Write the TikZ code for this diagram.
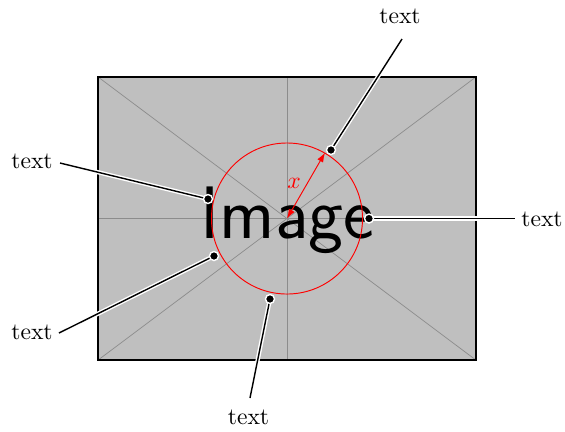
\documentclass[tikz,border=0pt]{standalone}
\usetikzlibrary{arrows.meta}
\begin{document}
\begin{tikzpicture}[x=0.4237pt,y=-0.4237pt,
  frame/.style={draw=black, line width=0.5pt, fill=black!25, rectangle, inner sep=0pt,
    minimum width=160.2pt, minimum height=119.9pt},
  guide/.style={draw=black!45, line width=0.3pt},
  ring/.style={draw=red, line width=0.4pt, circle, inner sep=0pt, minimum size=64pt},
  radius arrow/.style={red, line width=0.4pt, {Latex[length=4pt,width=2.8pt]}-{Latex[length=4pt,width=2.8pt]}},
  halo/.style={preaction={draw=white, line width=1.8pt}, draw=black, line width=0.6pt},
  dot/.style={circle, fill=black, draw=white, line width=0.6pt, inner sep=0pt, minimum size=3.8pt},
  lbl/.style={inner sep=1pt}
]
\useasboundingbox (0,0) rectangle (565,431);
% placeholder image
\node[frame] (img) at (287,218.5) {};
\draw[guide] (img.north west) -- (img.south east);
\draw[guide] (img.south west) -- (img.north east);
\draw[guide] (img.north) -- (img.south);
\draw[guide] (img.west) -- (img.east);
\node[draw=black, line width=0.5pt, rectangle, inner sep=0pt, minimum width=160.2pt, minimum height=119.9pt] (imgb) at (img.center) {};
\node[font=\fontsize{31.5}{36}\selectfont\sffamily, anchor=base, inner sep=0pt] (word) at (287.5,238) {Image};
% circle and radius
\node[ring] (ring) at (img.center) {};
\draw[radius arrow] (ring.center) -- (ring.60) node[midway, left, text=red, inner sep=2pt, yshift=1pt] (xl) {$x$};
% callouts
\coordinate (p1) at (331,150);
\coordinate (p2) at (369,218.5);
\coordinate (p3) at (270,299);
\coordinate (p4) at (214,256);
\coordinate (p5) at (208,199);
\coordinate (e1) at (402,39);
\coordinate (e2) at (515,218.5);
\coordinate (e3) at (250,398);
\coordinate (e4) at (59,333);
\coordinate (e5) at (60,163);
\node[lbl] (t1) at (400,16.5) {text};
\node[lbl] (t2) at (542,219.5) {text};
\node[lbl] (t3) at (248.5,417.5) {text};
\node[lbl] (t4) at (32,332.5) {text};
\node[lbl] (t5) at (32,161) {text};
\draw[halo] (p1) -- (e1);
\draw[halo] (p2) -- (e2);
\draw[halo] (p3) -- (e3);
\draw[halo] (p4) -- (e4);
\draw[halo] (p5) -- (e5);
\node[dot] (d1) at (p1) {};
\node[dot] (d2) at (p2) {};
\node[dot] (d3) at (p3) {};
\node[dot] (d4) at (p4) {};
\node[dot] (d5) at (p5) {};
\end{tikzpicture}
\end{document}
